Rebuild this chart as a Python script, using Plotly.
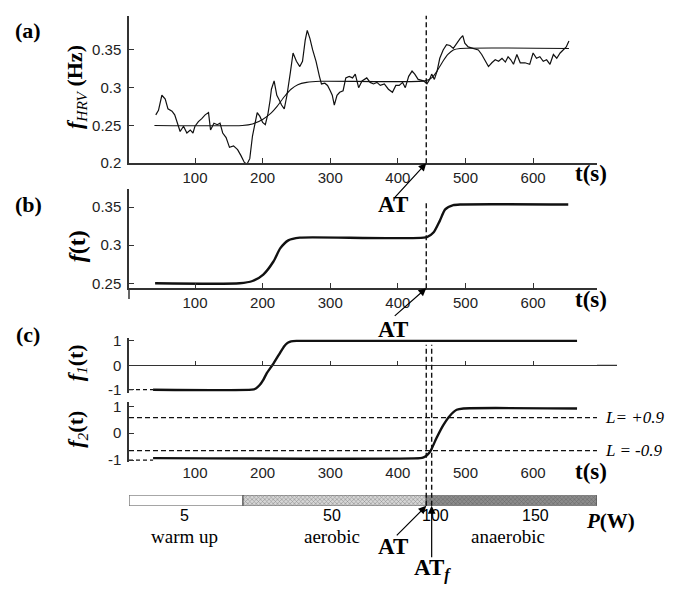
import plotly.graph_objects as go

W, H = 674, 591
def px(x):
    return x / W
def py(y):
    return 1 - y / H

# ---------------- data ----------------
hrv_t = [42, 46, 51, 56, 60, 66, 70, 74, 78, 83, 88, 93, 97, 100, 105, 110, 115, 120, 123, 128,
         133, 137, 141, 146, 151, 157, 163, 168, 173, 177, 181, 185, 189, 192, 196, 200, 204, 208, 211, 213,
         217, 221, 225, 228, 232, 236, 241, 245, 250, 255, 259, 263, 266, 270, 274, 279, 284, 287, 292, 296,
         300, 303, 306, 310, 314, 319, 323, 328, 333, 337, 342, 347, 354, 359, 364, 369, 374, 380, 386, 392,
         397, 402, 407, 411, 416, 421, 425, 430, 438, 443, 447, 450, 454, 458, 462, 467, 472, 477, 482, 487,
         492, 496, 499, 504, 512, 519, 524, 529, 534, 539, 544, 549, 554, 559, 563, 567, 571, 576, 581, 588,
         595, 600, 605, 610, 615, 620, 625, 630, 635, 640, 645, 649, 653]
hrv_v = [0.264, 0.270, 0.290, 0.285, 0.272, 0.269, 0.264, 0.253, 0.242, 0.249, 0.240, 0.244, 0.240, 0.249, 0.255, 0.259, 0.264, 0.267, 0.244, 0.253,
         0.251, 0.253, 0.240, 0.234, 0.221, 0.223, 0.218, 0.210, 0.201, 0.199, 0.206, 0.236, 0.257, 0.267, 0.262, 0.254, 0.251, 0.266, 0.283, 0.298,
         0.309, 0.290, 0.283, 0.277, 0.272, 0.290, 0.320, 0.346, 0.335, 0.328, 0.335, 0.363, 0.376, 0.365, 0.350, 0.335, 0.315, 0.305, 0.306, 0.303,
         0.296, 0.290, 0.277, 0.290, 0.294, 0.296, 0.313, 0.315, 0.313, 0.318, 0.300, 0.309, 0.313, 0.307, 0.305, 0.307, 0.303, 0.305, 0.298, 0.294,
         0.303, 0.303, 0.307, 0.300, 0.315, 0.322, 0.318, 0.311, 0.309, 0.305, 0.311, 0.318, 0.311, 0.322, 0.339, 0.350, 0.357, 0.356, 0.352, 0.359,
         0.365, 0.369, 0.359, 0.354, 0.352, 0.350, 0.344, 0.335, 0.328, 0.333, 0.337, 0.335, 0.339, 0.334, 0.341, 0.337, 0.331, 0.344, 0.333, 0.333,
         0.331, 0.346, 0.339, 0.341, 0.335, 0.337, 0.331, 0.344, 0.339, 0.346, 0.350, 0.354, 0.362]

fit_t = [40, 170, 185, 200, 212, 222, 232, 242, 252, 265, 285, 440, 450, 458, 466, 474, 482, 492, 653]
fit_v = [0.25, 0.25, 0.252, 0.258, 0.266, 0.276, 0.288, 0.298, 0.304, 0.307, 0.3085, 0.309, 0.313, 0.322, 0.334, 0.344, 0.350, 0.352, 0.352]

ft_t = [41, 166, 185, 201, 216, 226, 238, 255, 443, 453, 462, 470, 482, 492, 652]
ft_v = [0.25, 0.25, 0.253, 0.2615, 0.2786, 0.2958, 0.3064, 0.31, 0.3107, 0.317, 0.332, 0.347, 0.3526, 0.3535, 0.3535]

f1_t = [38, 184, 190, 196, 201, 206, 216, 226, 232, 236, 240, 245, 250, 665]
f1_v = [-1, -1, -0.95, -0.8, -0.6, -0.33, 0.07, 0.52, 0.78, 0.9, 0.96, 0.99, 1.0, 1.0]

f2_t = [38, 433, 438, 443, 448, 457, 467, 477, 487, 497, 665]
f2_v = [-0.93, -0.93, -0.9, -0.82, -0.68, -0.19, 0.29, 0.65, 0.87, 0.92, 0.92]

L_levels = [0.58, -0.65]
L_labels = ["L= +0.9", "L = -0.9"]

AT = 442
ATf = 450

stage_names = ["warm up", "aerobic", "anaerobic"]
stage_bounds = [2.4, 171, 442, 694.5]
stage_label_t = [84, 302, 563]
power_labels = ["5", "50", "100", "150"]
power_t = [84, 302, 456, 603]

x_ticks = [100, 200, 300, 400, 500, 600]
ya_ticks = [0.2, 0.25, 0.3, 0.35]
ya_text = ["0.2", "0.25", "0.3", "0.35"]
yb_ticks = [0.25, 0.3, 0.35]
yb_text = ["0.25", "0.3", "0.35"]
yc_ticks = [-1, 0, 1]
yc_text = ["-1", "0", "1"]

XR = [stage_bounds[0], stage_bounds[-1]]

# ---------------- figure ----------------
SANS = "Liberation Sans, Arial, sans-serif"
SERIF = "Liberation Serif, Times New Roman, serif"
INK = "#111"

fig = go.Figure()

fig.add_trace(go.Scatter(x=hrv_t, y=hrv_v, mode="lines", line=dict(color=INK, width=1.2),
                         xaxis="x", yaxis="y", showlegend=False))
fig.add_trace(go.Scatter(x=fit_t, y=fit_v, mode="lines", line=dict(color=INK, width=1.1, shape="spline", smoothing=0.6),
                         xaxis="x", yaxis="y", showlegend=False))
fig.add_trace(go.Scatter(x=ft_t, y=ft_v, mode="lines", line=dict(color=INK, width=2.4, shape="spline", smoothing=0.6),
                         xaxis="x2", yaxis="y2", showlegend=False))
fig.add_trace(go.Scatter(x=f1_t, y=f1_v, mode="lines", line=dict(color=INK, width=2.4, shape="spline", smoothing=0.5),
                         xaxis="x3", yaxis="y3", showlegend=False))
fig.add_trace(go.Scatter(x=f2_t, y=f2_v, mode="lines", line=dict(color=INK, width=2.4, shape="spline", smoothing=0.5),
                         xaxis="x4", yaxis="y4", showlegend=False))
# dashed lead-ins at the start level
fig.add_trace(go.Scatter(x=[XR[0], f1_t[0]], y=[f1_v[0], f1_v[0]], mode="lines",
                         line=dict(color=INK, width=1.2, dash="4px,3px"), xaxis="x3", yaxis="y3", showlegend=False))
fig.add_trace(go.Scatter(x=[XR[0], f2_t[0]], y=[-1, -1], mode="lines",
                         line=dict(color=INK, width=1.2, dash="4px,3px"), xaxis="x4", yaxis="y4", showlegend=False))

# stage bar
lengths = [stage_bounds[i + 1] - stage_bounds[i] for i in range(3)]
fig.add_trace(go.Bar(y=[0, 0, 0], x=lengths, base=stage_bounds[:3], orientation="h", width=1,
                     xaxis="x5", yaxis="y5", showlegend=False,
                     marker=dict(color=["white", "#d6d6d6", "#8c8c8c"],
                                 line=dict(color="#444", width=1),
                                 pattern=dict(shape=["", "x", "x"], fgcolor=["#000", "#808080", "#3a3a3a"],
                                              size=3, solidity=0.35))))

dom_x = [px(129), px(597)]
tickfont = dict(family=SANS, size=15, color="#222")
common_x = dict(range=XR, tickvals=x_ticks, showgrid=False, zeroline=False, ticks="inside", ticklen=5,
                tickcolor="#333", tickwidth=1.2, showline=True, linecolor="#333", linewidth=1.5,
                tickfont=tickfont, domain=dom_x, fixedrange=True)
common_y = dict(showgrid=False, zeroline=False, ticks="inside", ticklen=5, tickcolor="#333", tickwidth=1.2,
                showline=True, linecolor="#333", linewidth=1.5, tickfont=tickfont, ticklabelstandoff=3,
                fixedrange=True)

layout = dict(
    width=W, height=H, autosize=False, margin=dict(l=0, r=0, t=0, b=0),
    paper_bgcolor="white", plot_bgcolor="rgba(0,0,0,0)", barmode="overlay", showlegend=False,
    xaxis=dict(common_x, anchor="y"),
    yaxis=dict(common_y, anchor="x", domain=[py(161), py(10)], range=[0.2, 0.3953], tickvals=ya_ticks, ticktext=ya_text),
    xaxis2=dict(common_x, anchor="y2"),
    yaxis2=dict(common_y, anchor="x2", domain=[py(289), py(187)], range=[0.2436, 0.3744], tickvals=yb_ticks, ticktext=yb_text),
    xaxis3=dict(common_x, anchor="free", position=py(368), showticklabels=False, linewidth=1.3, ticklen=4),
    yaxis3=dict(common_y, anchor="x3", domain=[py(396), py(340)], range=[-1.12, 1.12], tickvals=yc_ticks, ticktext=yc_text),
    xaxis4=dict(common_x, anchor="y4", showline=False, ticks=""),
    yaxis4=dict(common_y, anchor="x4", domain=[py(467), py(406)], range=[-1.07, 1.145], tickvals=yc_ticks, ticktext=yc_text),
    xaxis5=dict(range=XR, domain=dom_x, anchor="y5", visible=False, fixedrange=True),
    yaxis5=dict(range=[-0.5, 0.5], domain=[py(512), py(501)], anchor="x5", visible=False, fixedrange=True),
)
fig.update_layout(**layout)

shapes = []
dash_line = dict(color=INK, width=1.4, dash="5px,3px")
shapes.append(dict(type="line", xref="x", yref="paper", x0=AT, x1=AT, y0=py(161), y1=py(10), line=dash_line))
shapes.append(dict(type="line", xref="x2", yref="paper", x0=AT, x1=AT, y0=py(289), y1=py(200), line=dash_line))
for xv in (AT, ATf):
    shapes.append(dict(type="line", xref="x5", yref="paper", x0=xv, x1=xv, y0=py(512), y1=py(347), line=dash_line))
for lv in L_levels:
    shapes.append(dict(type="line", xref="x4 domain", yref="y4", x0=0, x1=1, y0=lv, y1=lv,
                       line=dict(color=INK, width=1.2, dash="5px,3px")))
# extension of the f1 zero line and of the (b) y-axis
shapes.append(dict(type="line", xref="paper", yref="y3", x0=px(597), x1=px(617), y0=0, y1=0,
                   line=dict(color="#333", width=1.3)))
shapes.append(dict(type="line", xref="paper", yref="paper", x0=px(129), x1=px(129), y0=py(300), y1=py(289),
                   line=dict(color="#333", width=1.5)))
fig.update_layout(shapes=shapes)

ann = []
def txt(x, y, text, size=22, family=SERIF, angle=0, xanchor="center", xref="paper"):
    ann.append(dict(x=x, y=y, xref=xref, yref="paper", text=text, showarrow=False, textangle=angle,
                    xanchor=xanchor, yanchor="middle", font=dict(family=family, size=size, color="black")))

# panel labels
txt(px(28), py(25), "<b>(a)</b>")
txt(px(28), py(203), "<b>(b)</b>")
txt(px(28), py(336), "<b>(c)</b>")
# y titles
txt(px(76), py(83), "<b><i>f</i></b><sub><i>HRV</i></sub><b> (Hz)</b>", size=22, angle=-90)
txt(px(77), py(246), "<b><i>f</i>(t)</b>", size=24, angle=-90)
txt(px(77), py(366), "<b><i>f</i></b><sub><i>1</i></sub><b>(t)</b>", size=22, angle=-90)
txt(px(77), py(434), "<b><i>f</i></b><sub><i>2</i></sub><b>(t)</b>", size=22, angle=-90)
# t(s)
for yy in (172, 301, 477):
    txt(px(591), py(yy), "<b>t(s)</b>", size=23)
# AT labels
for yy in (203, 331, 554):
    txt(px(393), py(yy), "<b>AT</b>", size=23)
txt(px(432), py(577), "<b>AT</b><sub><b><i>f</i></b></sub>", size=23)
# arrows
arrow = dict(text="", showarrow=True, arrowhead=2, arrowsize=1.3, arrowwidth=1.2, arrowcolor="black",
             yref="paper", axref="pixel", ayref="pixel")
ann.append(dict(arrow, x=AT, xref="x", y=py(161), ax=-33, ay=36))
ann.append(dict(arrow, x=AT, xref="x2", y=py(289), ax=-33, ay=29))
ann.append(dict(arrow, x=AT, xref="x5", y=py(512), ax=-31, ay=31))
ann.append(dict(arrow, x=ATf, xref="x5", y=py(512), ax=0, ay=53))
# L labels
for lv, lt in zip(L_levels, L_labels):
    ann.append(dict(x=px(603), xref="paper", y=lv, yref="y4", text="<i>" + lt + "</i>", showarrow=False,
                    xanchor="left", yanchor="middle", font=dict(family=SERIF, size=17, color="black")))
# power scale and stage names
for t, lab in zip(power_t, power_labels):
    txt(t, py(522), lab, size=16, family=SANS, xref="x5")
for t, lab in zip(stage_label_t, stage_names):
    txt(t, py(543), lab, size=19, xref="x5")
txt(px(610), py(527), "<b><i>P</i>(W)</b>", size=21)

fig.update_layout(annotations=ann)

fig.write_html("out.html")
